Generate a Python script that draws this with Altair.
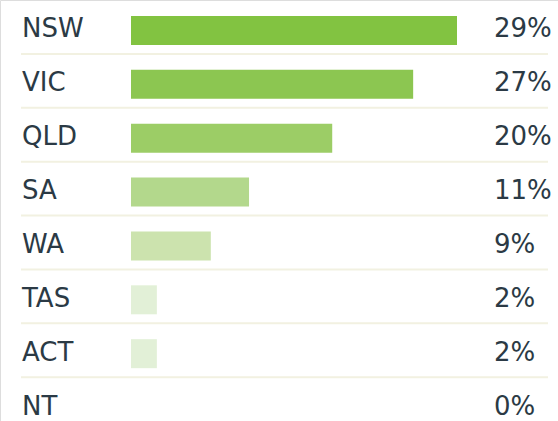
import altair as alt
import pandas as pd

states = ["NSW", "VIC", "QLD", "SA", "WA", "TAS", "ACT", "NT"]
bar_values = [29.0, 25.1, 17.9, 10.5, 7.1, 2.3, 2.3, 0.0]
labels = ["29%", "27%", "20%", "11%", "9%", "2%", "2%", "0%"]
colors = ["#82c341", "#8cc651", "#9ccd66", "#b3d88c", "#cce3ae", "#e2f0d7", "#e2f0d7", "#e2f0d7"]

df = pd.DataFrame({"state": states, "value": bar_values, "label": labels, "color": colors})
df["sep"] = [True] * 7 + [False]

yscale = alt.Scale(domain=states, paddingInner=0, paddingOuter=0)
font = "DejaVu Sans"
txt_color = "#2b3a45"

base = alt.Chart(df)

rules = base.transform_filter("datum.sep").mark_rule(color="#f2f1e1", strokeWidth=2).encode(
    y=alt.Y("state:N", scale=yscale, bandPosition=1, axis=None),
    x=alt.value(21),
    x2=alt.value(548),
)

bars = base.mark_bar(height=29, yOffset=3.5).encode(
    y=alt.Y("state:N", scale=yscale, axis=None),
    x=alt.X("value:Q", scale=alt.Scale(domain=[0, 29], range=[131, 457]), axis=None),
    x2=alt.datum(0),
    color=alt.Color("color:N", scale=None),
)

names = base.mark_text(align="left", baseline="middle", font=font, fontSize=26,
                       color=txt_color, dy=2.5).encode(
    y=alt.Y("state:N", scale=yscale, axis=None),
    x=alt.value(22),
    text="state:N",
)

pcts = base.mark_text(align="left", baseline="middle", font=font, fontSize=26,
                      color=txt_color, dy=2.5).encode(
    y=alt.Y("state:N", scale=yscale, axis=None),
    x=alt.value(494),
    text="label:N",
)

chart = alt.layer(rules, bars, names, pcts).properties(
    width=558, height=431,
    autosize=alt.AutoSizeParams(type="none"),
    padding=0,
).configure_view(stroke=None).configure(background="white")

chart.save("out.html", embed_options={"renderer": "svg", "actions": False})
